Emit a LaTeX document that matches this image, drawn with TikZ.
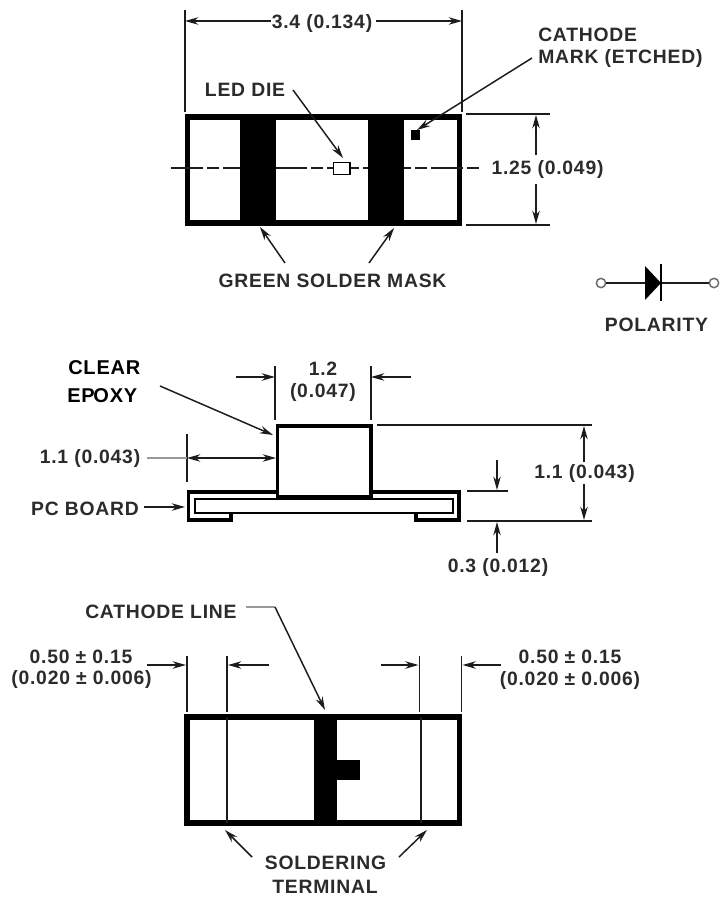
\documentclass[tikz,border=0pt]{standalone}
\usepackage{fontspec}
\setmainfont{Liberation Sans}[LetterSpace=4]
\usetikzlibrary{arrows.meta}
\definecolor{ink}{HTML}{1C1C1C}
\definecolor{txt}{HTML}{2B2B2B}
\tikzset{
 x=0.75pt,y=-0.75pt,
 lbl/.style={inner sep=0pt,text=txt,font=\fontsize{14.5}{16}\selectfont\bfseries},
 lblL/.style={lbl,anchor=west},
 big/.style={inner sep=0pt,anchor=west,text=black,font=\fontsize{15}{17}\selectfont\bfseries},
 thin line/.style={draw=ink,line width=1.1pt},
 arr/.style={draw=ink,line width=1.1pt,-{Stealth[length=10pt,width=5.6pt]}},
 dbl/.style={draw=ink,line width=1.1pt,{Stealth[length=10pt,width=5.6pt]}-{Stealth[length=10pt,width=5.6pt]}},
 grey line/.style={draw=ink!45,line width=1.3pt},
 heavy/.style={draw=black,line width=2.4pt,miter limit=10},
 body/.style={draw=black,line width=4pt,fill=white},
 solid ink/.style={fill=black,draw=none},
 thin box/.style={draw=black,line width=1pt},
}
\begin{document}
\begin{tikzpicture}
\useasboundingbox (0,0) rectangle (720,900);
\fill[white] (0,0) rectangle (720,900);
% ---------- top view
\draw[body] (187.5,117) rectangle (459.5,223);
\coordinate (cl1) at (171,168); \coordinate (cl2) at (480,168);
\draw[thin line,dash pattern=on 24pt off 3pt on 9pt off 3pt] (cl1) -- (cl2);
\fill[solid ink] (240,115) rectangle (276,225);
\fill[solid ink] (368,115) rectangle (404,225);
\node[thin box,fill=white,minimum width=12.5pt,minimum height=9pt,inner sep=0pt] (die) at (341.5,168.5) {};
\node[solid ink,minimum width=7pt,minimum height=7pt,inner sep=0pt] (mark) at (415.5,135) {};
% 3.4
\coordinate (e1a) at (185,10); \coordinate (e1b) at (185,112);
\coordinate (e2a) at (462,10); \coordinate (e2b) at (462,112);
\draw[thin line] (e1a) -- (e1b); \draw[thin line] (e2a) -- (e2b);
\node[lbl] (w34) at (322,23) {3.4 (0.134)};
\coordinate (w34l) at (185,21); \coordinate (w34r) at (462,21);
\coordinate (w34a) at (271,21); \coordinate (w34b) at (376,21);
\draw[arr] (w34a) -- (w34l); \draw[arr] (w34b) -- (w34r);
% LED die
\node[lbl] (ledlab) at (245,90) {LED DIE};
\coordinate (leda) at (293,90); \coordinate (ledb) at (343,158);
\draw[arr] (leda) -- (ledb);
% cathode mark
\node[lblL] (cm1) at (538,35) {CATHODE};
\node[lblL] (cm2) at (538,58) {MARK (ETCHED)};
\coordinate (cma) at (532,58); \coordinate (cmb) at (417,130);
\draw[arr] (cma) -- (cmb);
% 1.25
\coordinate (h1a) at (466,114); \coordinate (h1b) at (550,114);
\coordinate (h2a) at (466,225); \coordinate (h2b) at (550,225);
\draw[thin line] (h1a) -- (h1b); \draw[thin line] (h2a) -- (h2b);
\node[lbl] (h125) at (547.5,169) {1.25 (0.049)};
\coordinate (h125a) at (536,155); \coordinate (h125b) at (536,184);
\coordinate (h125t) at (536,115); \coordinate (h125u) at (536,224);
\draw[arr] (h125a) -- (h125t); \draw[arr] (h125b) -- (h125u);
% green solder mask
\node[lbl] (gsm) at (332.5,281) {GREEN SOLDER MASK};
\coordinate (g1a) at (285,263); \coordinate (g1b) at (260,227);
\coordinate (g2a) at (369,263); \coordinate (g2b) at (394,228);
\draw[arr] (g1a) -- (g1b); \draw[arr] (g2a) -- (g2b);
% polarity
\node[draw=ink!65,line width=1.1pt,circle,minimum size=7pt,inner sep=0pt] (pa) at (601,283) {};
\node[draw=ink!65,line width=1.1pt,circle,minimum size=7pt,inner sep=0pt] (pb) at (714,283) {};
\coordinate (da) at (645,283); \coordinate (db) at (661,283);
\draw[thin line] (pa) -- (da); \draw[thin line] (db) -- (pb);
\fill[solid ink] (645,266) -- (661,283) -- (645,300) -- cycle;
\draw[black,line width=1.8pt] (661,264) -- (661,301);
\node[lbl] (pol) at (656.5,325) {POLARITY};
% ---------- side view
\draw[heavy,line join=miter] (277,492) -- (188.5,492) -- (188.5,520) -- (231,520) -- (231,514);
\draw[heavy,line join=miter] (371,492) -- (459,492) -- (459,520) -- (416,520) -- (416,514);
\draw[thin box] (195,499) rectangle (453,513);
\draw[heavy,fill=white] (277.5,426) rectangle (371,497);
\node[big] (clear) at (68,368) {CLEAR};
\node[big] (epoxy) at (67,396) {EP\hspace{-1pt}OXY};
\coordinate (epa) at (160,386); \coordinate (epb) at (273,435);
\draw[arr] (epa) -- (epb);
% 1.2
\coordinate (t1a) at (275,366); \coordinate (t1b) at (275,420);
\coordinate (t2a) at (371,366); \coordinate (t2b) at (371,420);
\draw[thin line] (t1a) -- (t1b); \draw[thin line] (t2a) -- (t2b);
\node[lbl] (w12a) at (323,369) {1.2};
\node[lbl] (w12b) at (323,392) {(0.047)};
\coordinate (t3a) at (236,377); \coordinate (t3b) at (275,377);
\coordinate (t4a) at (411,377); \coordinate (t4b) at (371,377);
\draw[arr] (t3a) -- (t3b); \draw[arr] (t4a) -- (t4b);
% 1.1 left
\node[lbl] (l11) at (90,458) {1.1 (0.043)};
\coordinate (l1a) at (187,434); \coordinate (l1b) at (187,482);
\draw[thin line] (l1a) -- (l1b);
\coordinate (l2a) at (147,458); \coordinate (l2b) at (187,458); \coordinate (l2c) at (276,458);
\draw[grey line] (l2a) -- (l2b);
\draw[dbl] (l2b) -- (l2c);
% PC board
\node[lbl] (pcb) at (85,509) {PC BOARD};
\coordinate (pca) at (144,507); \coordinate (pcb2) at (185,507);
\draw[arr] (pca) -- (pcb2);
% right dims
\coordinate (r1a) at (377,425); \coordinate (r1b) at (592,425);
\coordinate (r2a) at (467,521); \coordinate (r2b) at (592,521);
\coordinate (r3a) at (467,491); \coordinate (r3b) at (508,491);
\draw[thin line] (r1a) -- (r1b); \draw[thin line] (r2a) -- (r2b); \draw[thin line] (r3a) -- (r3b);
\node[lbl] (r11) at (584.5,473) {1.1 (0.043)};
\coordinate (r4a) at (584,462); \coordinate (r4b) at (584,426);
\coordinate (r5a) at (584,484); \coordinate (r5b) at (584,520);
\draw[arr] (r4a) -- (r4b); \draw[arr] (r5a) -- (r5b);
\node[lbl] (r03) at (498,567) {0.3 (0.012)};
\coordinate (r6a) at (497,460); \coordinate (r6b) at (497,490);
\coordinate (r7a) at (497,553); \coordinate (r7b) at (497,522);
\draw[arr] (r6a) -- (r6b); \draw[arr] (r7a) -- (r7b);
% ---------- bottom view
\draw[body] (187,717) rectangle (459.5,823);
\fill[solid ink] (314,715) rectangle (337,825);
\fill[solid ink] (336,760) rectangle (360,780);
\coordinate (v1a) at (227,717); \coordinate (v1b) at (227,823);
\coordinate (v2a) at (421,717); \coordinate (v2b) at (421,823);
\draw[thin line] (v1a) -- (v1b); \draw[thin line] (v2a) -- (v2b);
\node[lblL] (cl) at (85,612) {CATHODE LINE};
\coordinate (cla) at (246,607); \coordinate (clb) at (275,607); \coordinate (clc) at (325,710);
\draw[grey line] (cla) -- (clb);
\draw[arr] (clb) -- (clc);
\coordinate (x1a) at (187,656); \coordinate (x1b) at (187,712);
\coordinate (x2a) at (227,656); \coordinate (x2b) at (227,712);
\coordinate (x3a) at (419.5,656); \coordinate (x3b) at (419.5,712);
\coordinate (x4a) at (461.5,656); \coordinate (x4b) at (461.5,712);
\draw[thin line] (x1a) -- (x1b); \draw[thin line] (x2a) -- (x2b);
\draw[thin line] (x3a) -- (x3b); \draw[thin line] (x4a) -- (x4b);
\coordinate (y1a) at (147,665); \coordinate (y1b) at (186,665);
\coordinate (y2a) at (269,665); \coordinate (y2b) at (228,665);
\coordinate (y3a) at (381,665); \coordinate (y3b) at (418.5,665);
\coordinate (y4a) at (501,665); \coordinate (y4b) at (462.5,665);
\draw[arr] (y1a) -- (y1b); \draw[arr] (y2a) -- (y2b);
\draw[arr] (y3a) -- (y3b); \draw[arr] (y4a) -- (y4b);
\node[lbl] (ta1) at (81,657) {0.50 ± 0.15};
\node[lbl] (ta2) at (81.5,679) {(0.020 ± 0.006)};
\node[lbl] (tb1) at (570,657) {0.50 ± 0.15};
\node[lbl] (tb2) at (570,680) {(0.020 ± 0.006)};
\node[lbl] (st1) at (325.5,863) {SOLDERING};
\node[lbl] (st2) at (325,887) {TERMINAL};
\coordinate (s1a) at (252,857); \coordinate (s1b) at (225,830);
\coordinate (s2a) at (399,857); \coordinate (s2b) at (427,830);
\draw[arr] (s1a) -- (s1b); \draw[arr] (s2a) -- (s2b);
\end{tikzpicture}
\end{document}
